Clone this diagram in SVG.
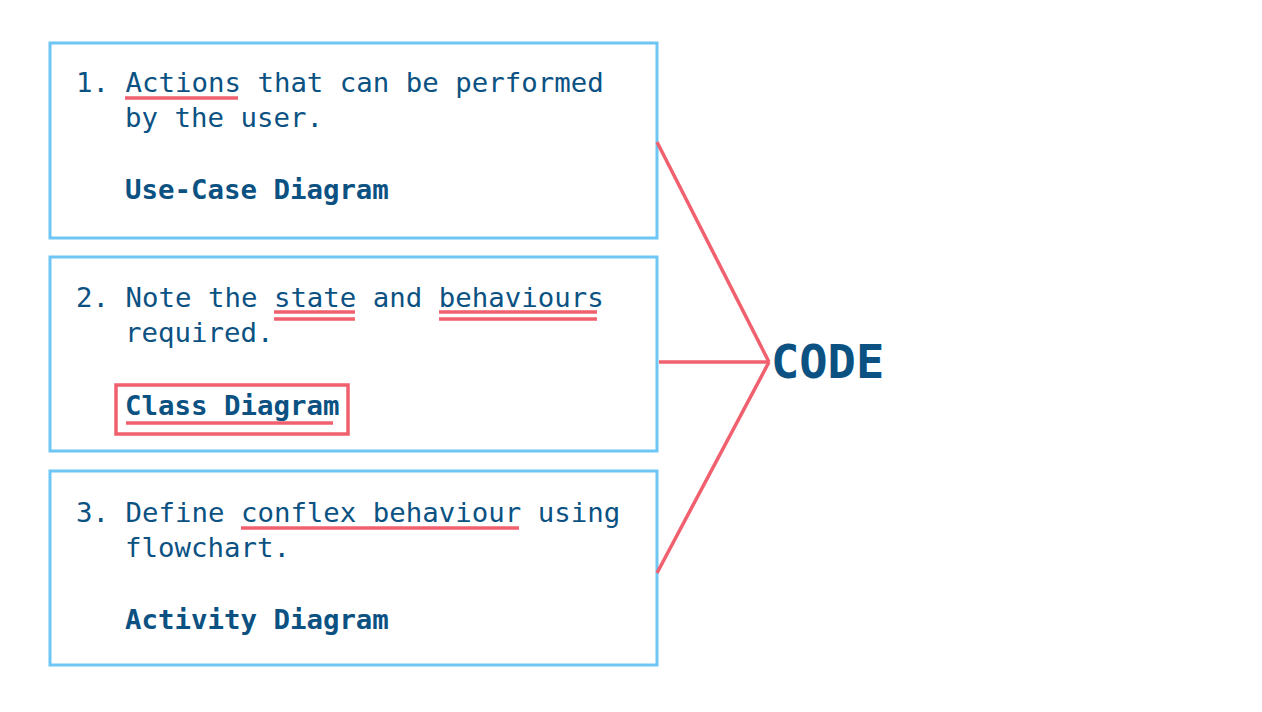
<svg xmlns="http://www.w3.org/2000/svg" width="1262" height="712" viewBox="0 0 1262 712">
<style>
.box{fill:#fff;stroke:#6EC6F4;stroke-width:3}
.t{font-family:"DejaVu Sans Mono","Liberation Mono",monospace;font-size:27.4px;fill:#0B5283}
.b{font-weight:bold}
.ul{stroke:#F0606E;stroke-width:3.5;fill:none}
.con{stroke:#F0606E;stroke-width:3.5;fill:none}
</style>
<rect width="1262" height="712" fill="#fff"/>
<g id="node1">
<rect class="box" x="50" y="43" width="607" height="195"/>
<text class="t" x="76" y="92">1. Actions that can be performed</text>
<text class="t" x="125" y="127">by the user.</text>
<text class="t b" x="125" y="199">Use-Case Diagram</text>
<line class="ul" x1="125" y1="98" x2="238" y2="98"/>
</g>
<g id="node2">
<rect class="box" x="50" y="257" width="607" height="194"/>
<text class="t" x="76" y="307">2. Note the state and behaviours</text>
<text class="t" x="125" y="342">required.</text>
<text class="t b" x="125" y="415">Class Diagram</text>
<line class="ul" x1="274" y1="312" x2="355" y2="312"/>
<line class="ul" x1="274" y1="319" x2="355" y2="319"/>
<line class="ul" x1="439" y1="312" x2="597" y2="312"/>
<line class="ul" x1="439" y1="319" x2="597" y2="319"/>
<rect class="ul" x="116" y="385" width="232" height="49"/>
<line class="ul" x1="126" y1="423" x2="333" y2="423"/>
</g>
<g id="node3">
<rect class="box" x="50" y="471" width="607" height="194"/>
<text class="t" x="76" y="522">3. Define conflex behaviour using</text>
<text class="t" x="125" y="557">flowchart.</text>
<text class="t b" x="125" y="629">Activity Diagram</text>
<line class="ul" x1="241" y1="528" x2="519" y2="528"/>
</g>
<g id="code">
<text class="t b" x="771" y="378" style="font-size:47px">CODE</text>
</g>
<g id="connectors">
<line class="con" x1="657" y1="142" x2="769" y2="362"/>
<line class="con" x1="659" y1="362" x2="769" y2="362"/>
<line class="con" x1="657" y1="573" x2="769" y2="362"/>
</g>
</svg>
